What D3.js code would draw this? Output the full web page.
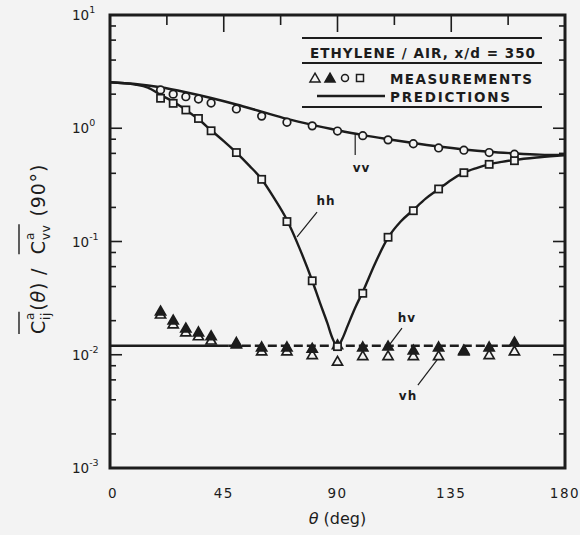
<!DOCTYPE html>
<html>
<head>
<meta charset="utf-8">
<script src="https://cdn.jsdelivr.net/npm/d3@7"></script>
<style>
  body { margin: 0; background: #f3f3f3; }
  svg { display: block; }
</style>
</head>
<body>
<svg id="chart" width="580" height="535"></svg>
<script>
// Measured polarization ratios, ethylene/air flame at x/d = 350
const measAngles  = [20, 25, 30, 35, 40, 50, 60, 70, 80, 90, 100, 110, 120, 130, 140, 150, 160];
const vvMeasured  = [2.18, 2.0, 1.9, 1.81, 1.67, 1.48, 1.28, 1.13, 1.05, 0.945, 0.86, 0.79, 0.73, 0.67, 0.64, 0.61, 0.59];
const hhMeasured  = [1.84, 1.66, 1.45, 1.22, 0.95, 0.61, 0.354, 0.15, 0.045, 0.0118, 0.0349, 0.109, 0.187, 0.291, 0.405, 0.48, 0.517];
const hvMeasured  = [0.0238, 0.0199, 0.0169, 0.0156, 0.0144, 0.0126, 0.0115, 0.0115, 0.0112, 0.0120, 0.0115, 0.0117, 0.0108, 0.0115, 0.0108, 0.0115, 0.0127];
const vhMeasured  = [0.0224, 0.0183, 0.0156, 0.0144, 0.0132, 0.0122, 0.0106, 0.0106, 0.0098, 0.0086, 0.0096, 0.0096, 0.0096, 0.0096, 0.0106, 0.0098, 0.0106];

// Predicted curves
const vvPredAngles = [0, 10, 20, 30, 40, 50, 60, 70, 80, 90, 100, 110, 120, 130, 140, 150, 160, 170, 180];
const vvPredicted  = [2.55, 2.46, 2.3, 2.08, 1.85, 1.62, 1.4, 1.21, 1.07, 0.96, 0.87, 0.8, 0.74, 0.69, 0.65, 0.62, 0.6, 0.585, 0.58];
const hhPredAngles = [0, 10, 15, 20, 25, 30, 35, 40, 45, 50, 55, 60, 65, 70, 75, 80, 83, 86, 88, 90, 92, 94, 97, 100, 105, 110, 115, 120, 125, 130, 135, 140, 145, 150, 155, 160, 170, 180];
const hhPredicted  = [2.55, 2.43, 2.28, 1.97, 1.72, 1.45, 1.2, 0.96, 0.77, 0.61, 0.47, 0.355, 0.24, 0.155, 0.087, 0.045, 0.029, 0.019, 0.014, 0.0118, 0.014, 0.018, 0.026, 0.036, 0.065, 0.108, 0.15, 0.19, 0.24, 0.29, 0.35, 0.405, 0.445, 0.48, 0.505, 0.525, 0.555, 0.58];
const crossPredicted  = 0.012;        // hv / vh prediction
const crossSolidLeft  = [0, 47];      // solid stretch on the left
const crossDashed     = [47, 162];    // dashed stretch
const crossSolidRight = [162, 180];   // solid stretch on the right

const xTickValues = [0, 45, 90, 135, 180];
const xMinorTop   = [22.5, 45, 67.5, 90, 112.5, 135, 157.5];
const yDecades    = [-3, -2, -1, 0, 1];
const yMinorMults = [2, 4, 6, 8];

// Curve annotations: leader line from/to (theta, value), text at (theta, value)
const annotations = [
  { label: "vv", from: [97, 0.91],     to: [97, 0.58],      text: [99.5, 0.41] },
  { label: "hh", from: [74, 0.11],     to: [81.9, 0.182],   text: [85.5, 0.21] },
  { label: "hv", from: [110, 0.0118],  to: [115.5, 0.0172], text: [117.5, 0.0195] },
  { label: "vh", from: [129.4, 0.009], to: [121.8, 0.0054], text: [117.9, 0.00398] }
];

const ink = "#1c1c1c";
const paper = "#f3f3f3";
const font = "'DejaVu Sans', 'Liberation Sans', sans-serif";

const svg = d3.select("#chart");
svg.append("rect").attr("width", 580).attr("height", 535).attr("fill", paper);

const x = d3.scaleLinear().domain([0, 180]).range([110, 565]);
const y = d3.scaleLog().domain([1e-3, 10]).range([468, 15]);

const plot = svg.append("g");

// ---- frame ticks ----
const ticks = plot.append("g").attr("stroke", ink).attr("stroke-width", 1.6);
yDecades.forEach(d => {
  const v = Math.pow(10, d);
  if (d > -3 && d < 1) {
    ticks.append("line").attr("x1", x(0)).attr("x2", x(0) + 12).attr("y1", y(v)).attr("y2", y(v));
    ticks.append("line").attr("x1", x(180)).attr("x2", x(180) - 12).attr("y1", y(v)).attr("y2", y(v));
  }
  if (d < 1) {
    yMinorMults.forEach(m => {
      const mv = v * m;
      ticks.append("line").attr("x1", x(0)).attr("x2", x(0) + 6).attr("y1", y(mv)).attr("y2", y(mv));
      ticks.append("line").attr("x1", x(180)).attr("x2", x(180) - 6).attr("y1", y(mv)).attr("y2", y(mv));
    });
  }
});
xMinorTop.forEach(t => {
  const len = (t % 45 === 0) ? 17 : 10;
  ticks.append("line").attr("x1", x(t)).attr("x2", x(t)).attr("y1", y(10)).attr("y2", y(10) + len);
});

// ---- prediction curves ----
const line = d3.line().x(d => x(d[0])).y(d => y(d[1])).curve(d3.curveMonotoneX);
const curves = plot.append("g").attr("fill", "none").attr("stroke", ink).attr("stroke-width", 2.4);
curves.append("path").attr("d", line(vvPredAngles.map((t, i) => [t, vvPredicted[i]])));
curves.append("path").attr("d", line(hhPredAngles.map((t, i) => [t, hhPredicted[i]])));
[crossSolidLeft, crossSolidRight].forEach(r => {
  curves.append("path").attr("d", line(r.map(t => [t, crossPredicted])));
});
curves.append("path")
  .attr("d", line(crossDashed.map(t => [t, crossPredicted])))
  .attr("stroke-dasharray", "9,4");

// ---- measurement markers ----
const markers = plot.append("g").attr("stroke", ink).attr("stroke-width", 1.7);
const tri = d3.symbol().type(d3.symbolTriangle).size(44);
function drawTriangles(vals, filled) {
  markers.selectAll(null).data(measAngles.map((t, i) => [t, vals[i]])).join("path")
    .attr("d", tri)
    .attr("transform", d => `translate(${x(d[0])},${y(d[1])})`)
    .attr("fill", filled ? ink : paper);
}
drawTriangles(vhMeasured, false);
drawTriangles(hvMeasured, true);
markers.selectAll(null).data(measAngles.map((t, i) => [t, vvMeasured[i]])).join("circle")
  .attr("cx", d => x(d[0])).attr("cy", d => y(d[1])).attr("r", 3.8).attr("fill", paper);
markers.selectAll(null).data(measAngles.map((t, i) => [t, hhMeasured[i]])).join("rect")
  .attr("x", d => x(d[0]) - 3.6).attr("y", d => y(d[1]) - 3.6)
  .attr("width", 7.2).attr("height", 7.2).attr("fill", paper);

// ---- annotations ----
const notes = plot.append("g");
annotations.forEach(a => {
  notes.append("line")
    .attr("x1", x(a.from[0])).attr("y1", y(a.from[1]))
    .attr("x2", x(a.to[0])).attr("y2", y(a.to[1]))
    .attr("stroke", ink).attr("stroke-width", 1.2);
  notes.append("text")
    .attr("x", x(a.text[0])).attr("y", y(a.text[1]))
    .attr("text-anchor", "middle")
    .attr("font-family", font).attr("font-weight", "bold").attr("font-size", 12)
    .attr("letter-spacing", 1).attr("fill", ink)
    .text(a.label);
});

// ---- legend ----
const legend = svg.append("g");
[38, 63, 107].forEach(ly => {
  legend.append("line").attr("x1", 302).attr("x2", 542).attr("y1", ly).attr("y2", ly)
    .attr("stroke", ink).attr("stroke-width", 2);
});
legend.append("text").attr("x", 310).attr("y", 58)
  .attr("font-family", font).attr("font-weight", "bold").attr("font-size", 13.5)
  .attr("textLength", 225).attr("lengthAdjust", "spacing").attr("fill", ink)
  .text("ETHYLENE / AIR, x/d = 350");
const lsym = legend.append("g").attr("stroke", ink).attr("stroke-width", 1.5);
lsym.append("path").attr("d", tri).attr("transform", "translate(315,79)").attr("fill", paper);
lsym.append("path").attr("d", tri).attr("transform", "translate(330,79)").attr("fill", ink);
lsym.append("circle").attr("cx", 345).attr("cy", 78).attr("r", 3.5).attr("fill", paper);
lsym.append("rect").attr("x", 356.5).attr("y", 74.5).attr("width", 7).attr("height", 7).attr("fill", paper);
legend.append("text").attr("x", 390).attr("y", 83.5)
  .attr("font-family", font).attr("font-weight", "bold").attr("font-size", 13.5)
  .attr("textLength", 142).attr("lengthAdjust", "spacing").attr("fill", ink)
  .text("MEASUREMENTS");
legend.append("line").attr("x1", 317).attr("x2", 385).attr("y1", 96).attr("y2", 96)
  .attr("stroke", ink).attr("stroke-width", 2.6);
legend.append("text").attr("x", 390).attr("y", 102)
  .attr("font-family", font).attr("font-weight", "bold").attr("font-size", 13.5)
  .attr("textLength", 120).attr("lengthAdjust", "spacing").attr("fill", ink)
  .text("PREDICTIONS");

// ---- frame ----
svg.append("rect")
  .attr("x", x(0)).attr("y", y(10))
  .attr("width", x(180) - x(0)).attr("height", y(1e-3) - y(10))
  .attr("fill", "none").attr("stroke", ink).attr("stroke-width", 3);

// ---- axis labels ----
const xl = svg.append("g").attr("font-family", font).attr("font-size", 13.5).attr("fill", ink);
xTickValues.forEach(t => {
  xl.append("text").attr("x", x(t) + (t === 0 ? 3 : 0)).attr("y", 498)
    .attr("text-anchor", "middle").attr("letter-spacing", 1.5).text(t);
});
const xt = svg.append("text").attr("x", x(90)).attr("y", 524)
  .attr("text-anchor", "middle").attr("font-family", font).attr("font-size", 16).attr("fill", ink);
xt.append("tspan").attr("font-style", "italic").text("θ");
xt.append("tspan").text("\u00a0(deg)");

const yl = svg.append("g").attr("font-family", font).attr("fill", ink);
yDecades.forEach(d => {
  const t = yl.append("text").attr("x", 72).attr("y", y(Math.pow(10, d)) + 5).attr("font-size", 13.5);
  t.append("tspan").text("10");
  t.append("tspan").attr("font-size", 9.5).attr("dy", -7).text(d < 0 ? "-" + (-d) : String(d));
});

// Rotated y title: overlined C_ij^a(θ) / overlined C_vv^a (90°)
const yt = svg.append("g").attr("transform", "translate(45,249) rotate(-90)")
  .attr("font-family", font).attr("fill", ink);
const pieces = [
  { t: "C", size: 19, over: "a" },
  { t: "a", size: 12, dy: -11, stack: true, over: "a" },
  { t: "ij", size: 12, dy: 5, over: "a" },
  { t: "(", size: 19 },
  { t: "θ", size: 19, italic: true },
  { t: ")\u00a0/\u00a0\u00a0", size: 19 },
  { t: "C", size: 19, over: "b" },
  { t: "a", size: 12, dy: -11, stack: true, over: "b" },
  { t: "vv", size: 12, dy: 5, over: "b" },
  { t: "\u00a0(90°)", size: 19 }
];
let cx = 0;
let stackStart = null;
let stackW = 0;
const spans = { a: [Infinity, -Infinity], b: [Infinity, -Infinity] };
pieces.forEach(p => {
  const xPos = stackStart !== null ? stackStart : cx;
  const el = yt.append("text").attr("x", xPos).attr("y", p.dy || 0)
    .attr("font-size", p.size).attr("letter-spacing", 0.8)
    .attr("font-style", p.italic ? "italic" : null).text(p.t);
  const w = el.node().getComputedTextLength();
  if (p.over) {
    spans[p.over][0] = Math.min(spans[p.over][0], xPos);
    spans[p.over][1] = Math.max(spans[p.over][1], xPos + w);
  }
  if (p.stack) {
    stackStart = cx;
    stackW = w;
  } else if (stackStart !== null) {
    cx = stackStart + Math.max(w, stackW) + 1;
    stackStart = null;
  } else {
    cx += w;
  }
});
const total = cx;
yt.selectAll("text").attr("transform", `translate(${-total / 2},0)`);
Object.values(spans).forEach(s => {
  yt.append("line").attr("x1", s[0] - total / 2).attr("x2", s[1] - total / 2)
    .attr("y1", -26).attr("y2", -26).attr("stroke", ink).attr("stroke-width", 1.4);
});
</script>
</body>
</html>
